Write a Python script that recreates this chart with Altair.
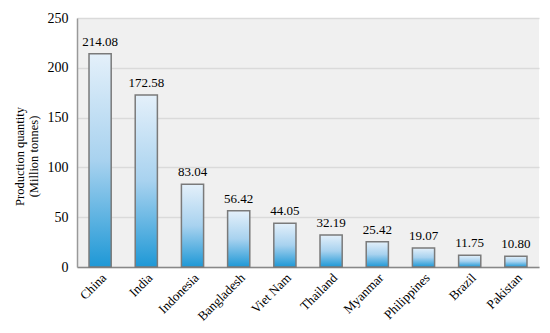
import altair as alt
import pandas as pd

countries = ["China", "India", "Indonesia", "Bangladesh", "Viet Nam", "Thailand",
             "Myanmar", "Philippines", "Brazil", "Pakistan"]
production = [214.08, 172.58, 83.04, 56.42, 44.05, 32.19, 25.42, 19.07, 11.75, 10.80]
y_ticks = [0, 50, 100, 150, 200, 250]

df = pd.DataFrame({"country": countries, "value": production})
df["label"] = [f"{v:.2f}" for v in production]

FONT = "Liberation Serif"

x = alt.X("country:N", sort=countries, title=None,
          scale=alt.Scale(paddingInner=0.52, paddingOuter=0.26),
          axis=alt.Axis(labelAngle=-45, labelFontSize=13, labelFont=FONT,
                        labelColor="#000", ticks=False, domainColor="#888",
                        domainWidth=1.5, labelPadding=4))
y = alt.Y("value:Q", scale=alt.Scale(domain=[0, 250], nice=False),
          title=["Production quantity", "(Million tonnes)"],
          axis=alt.Axis(values=y_ticks, ticks=False, labelFontSize=14, labelFont=FONT,
                        labelColor="#000", domainColor="#999", domainWidth=1.5,
                        gridColor="#dadada", gridWidth=1.5, labelPadding=9,
                        titleFont=FONT, titleFontSize=12.5, titleFontWeight="normal",
                        titleColor="#000", titleX=-51, titleY=138, titleAngle=-90,
                        titleAlign="center", titleBaseline="bottom"))

grad = alt.Gradient(gradient="linear",
                    stops=[alt.GradientStop(color="#e4f0fa", offset=0),
                           alt.GradientStop(color="#a8d2ef", offset=0.5),
                           alt.GradientStop(color="#1e98d6", offset=1)],
                    x1=0, x2=0, y1=0, y2=1)

bars = alt.Chart(df).mark_bar(color=grad, stroke="#7a7a7a", strokeWidth=1.5).encode(x=x, y=y)
labels = alt.Chart(df).mark_text(baseline="bottom", dy=-5, fontSize=13, font=FONT,
                                 color="#000").encode(x=x, y=y, text="label:N")

chart = (bars + labels).properties(
    width=462, height=249,
    autosize=alt.AutoSizeParams(type="none"),
    padding={"left": 69, "top": 10, "right": 3, "bottom": 58},
    background="white",
).configure_view(fill="#f0f0f0", stroke=None)

chart.save("out.html", embed_options={"renderer": "svg", "actions": False})
